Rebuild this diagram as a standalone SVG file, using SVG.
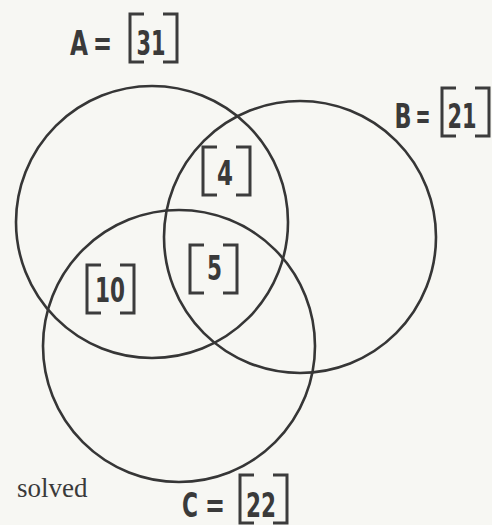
<svg xmlns="http://www.w3.org/2000/svg" width="492" height="525" viewBox="0 0 492 525">
<style>
.c{fill:none;stroke:#363636;stroke-width:2.6}
.br{fill:none;stroke:#3c3c3c;stroke-width:3}
.t{font-family:"Liberation Sans Narrow","DejaVu Sans Condensed","Liberation Sans",sans-serif;font-weight:bold;font-size:33px;fill:#3a3a3a;text-anchor:middle}
.s{font-family:"Liberation Serif","Times New Roman",serif;font-size:27px;fill:#3a3a3a}
</style>
<defs>
<path id="box" class="br" d="M14,0 H0 V48 H14 M33,0 H47 V48 H33"/>
</defs>
<rect width="492" height="525" fill="#f7f7f3"/>
<g id="connectors">
<circle id="circleA" class="c" cx="152" cy="222" r="136"/>
<circle id="circleB" class="c" cx="300" cy="237" r="136"/>
<circle id="circleC" class="c" cx="179" cy="346" r="136"/>
</g>
<g id="labelA">
<text class="t" x="79" y="55" textLength="18" lengthAdjust="spacingAndGlyphs">A</text>
<text class="t" x="102.5" y="55" textLength="19" lengthAdjust="spacingAndGlyphs">=</text>
<use href="#box" x="130" y="14"/>
<text class="t" x="151" y="55" textLength="29" lengthAdjust="spacingAndGlyphs">31</text>
</g>
<g id="labelB">
<text class="t" x="403" y="128" textLength="17" lengthAdjust="spacingAndGlyphs">B</text>
<text class="t" x="423" y="128" textLength="15" lengthAdjust="spacingAndGlyphs">=</text>
<use href="#box" x="442" y="88"/>
<text class="t" x="462" y="128" textLength="29" lengthAdjust="spacingAndGlyphs">21</text>
</g>
<g id="labelC">
<text class="t" x="190" y="517" textLength="16" lengthAdjust="spacingAndGlyphs">C</text>
<text class="t" x="215" y="517" textLength="20" lengthAdjust="spacingAndGlyphs">=</text>
<use href="#box" x="240" y="475"/>
<text class="t" x="261" y="517" textLength="30" lengthAdjust="spacingAndGlyphs">22</text>
</g>
<g id="regionAB">
<use href="#box" x="203" y="147"/>
<text class="t" x="225" y="185" textLength="16" lengthAdjust="spacingAndGlyphs">4</text>
</g>
<g id="regionABC">
<use href="#box" x="190" y="245"/>
<text class="t" x="214.5" y="280" textLength="15" lengthAdjust="spacingAndGlyphs">5</text>
</g>
<g id="regionAC">
<use href="#box" x="87" y="265"/>
<text class="t" x="110" y="302" textLength="30" lengthAdjust="spacingAndGlyphs">10</text>
</g>
<text class="s" x="17" y="497">solved</text>
</svg>
